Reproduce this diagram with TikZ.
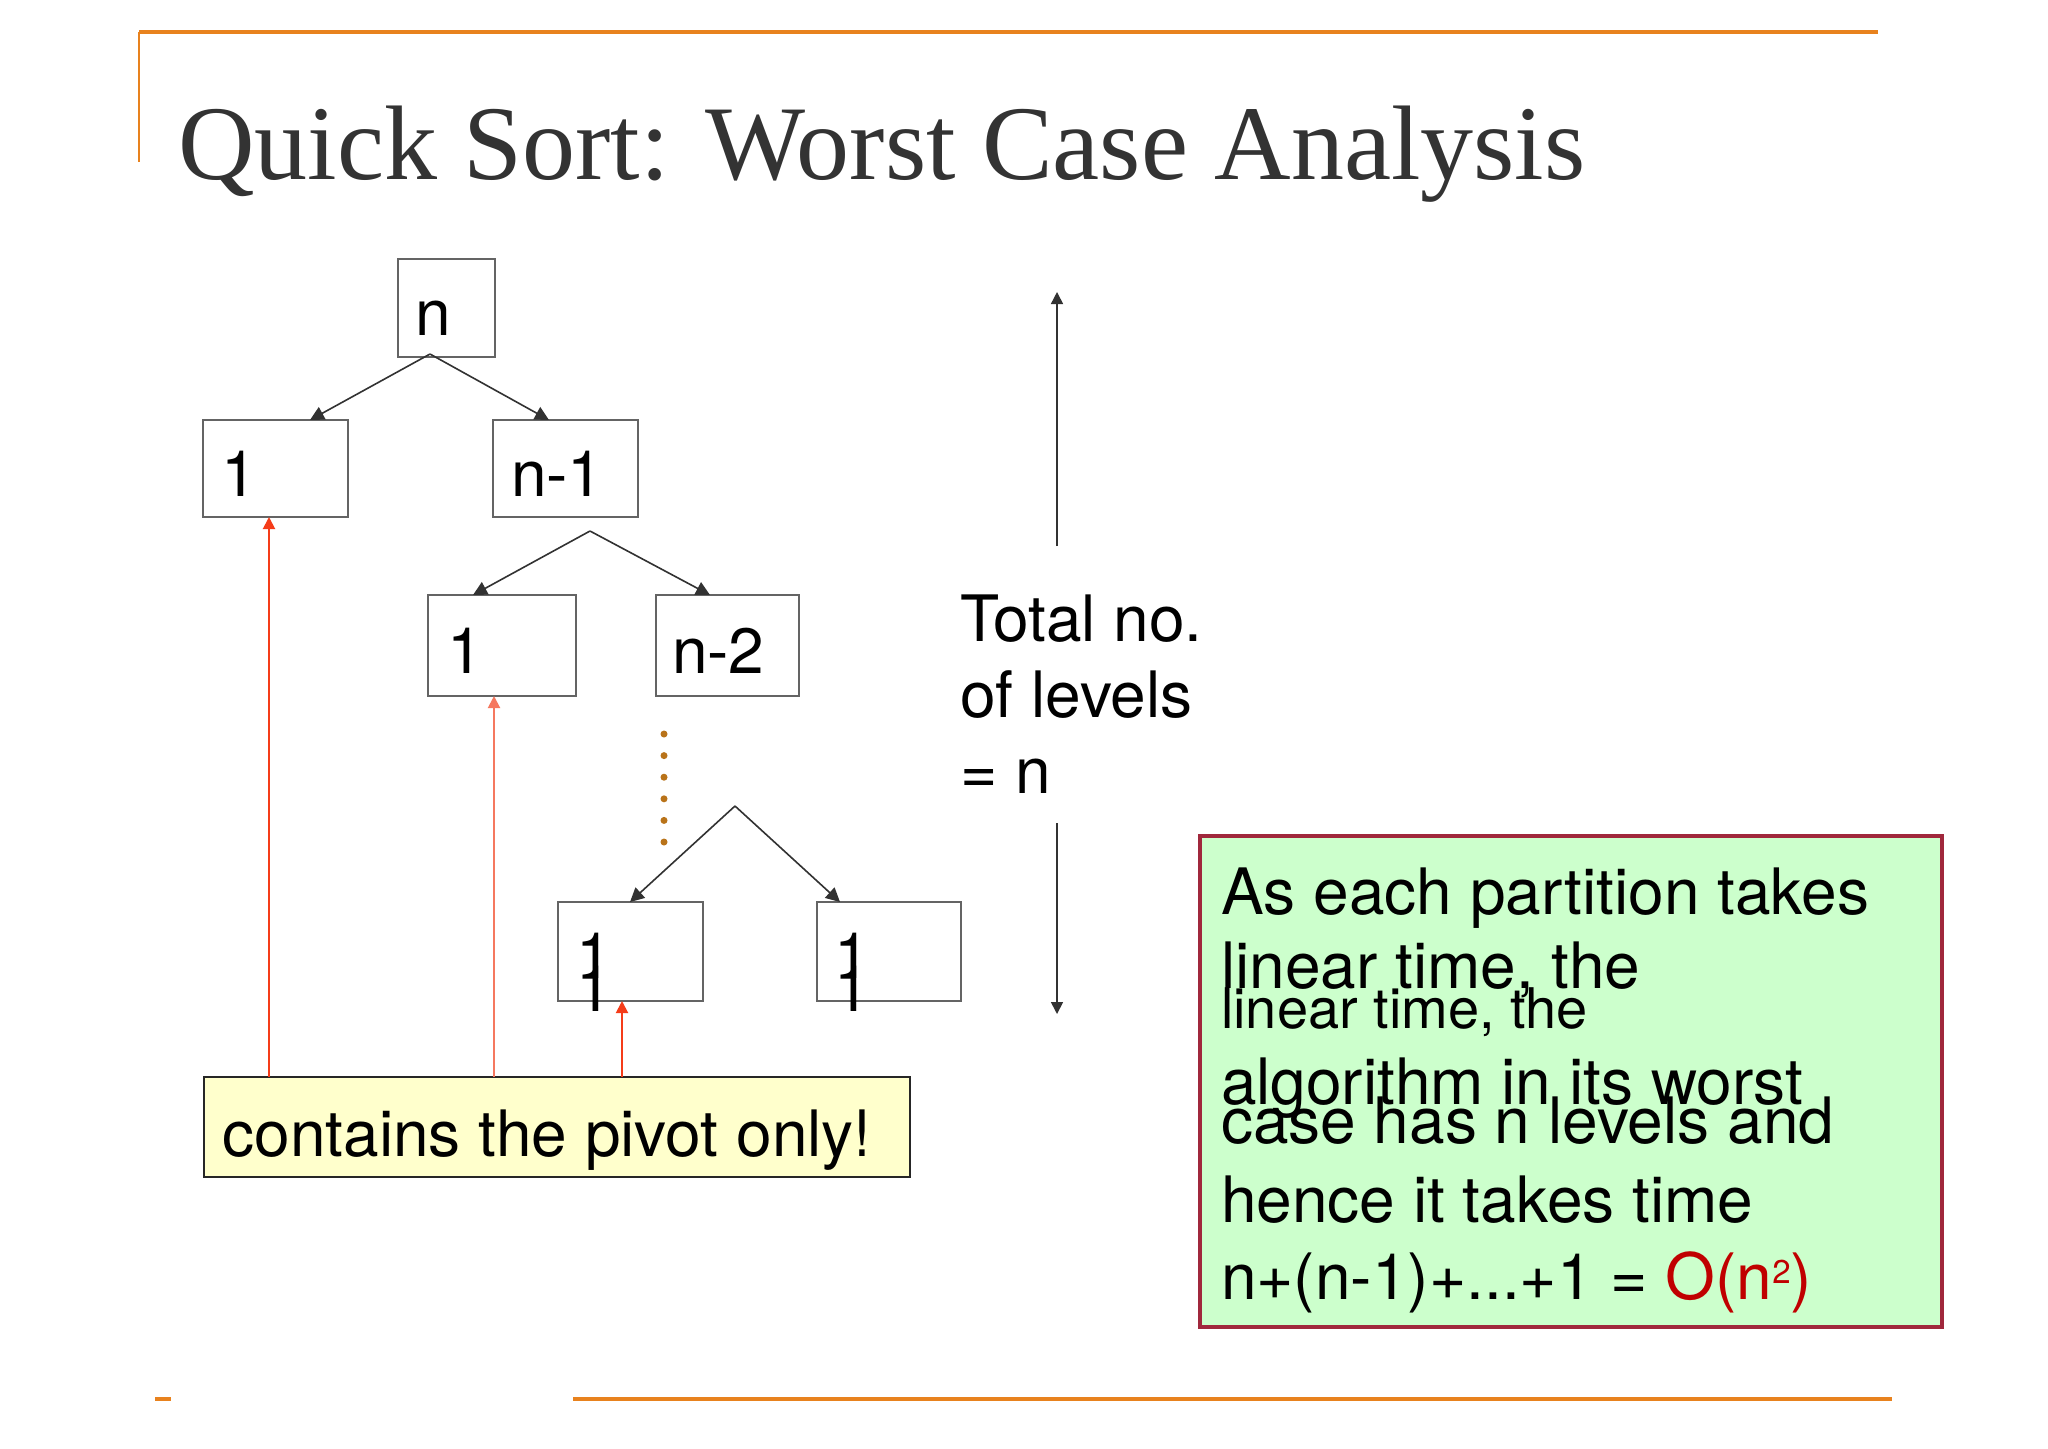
\documentclass[tikz,border=0pt]{standalone}
\usepackage{fontspec}
\setmainfont{TeX Gyre Heros}
\newfontfamily\titlefont{Liberation Serif}
\usetikzlibrary{arrows.meta}
\definecolor{orangeline}{RGB}{232,130,30}
\definecolor{titlegray}{RGB}{51,51,51}
\definecolor{boxgray}{RGB}{100,100,100}
\definecolor{arrowgray}{RGB}{50,50,50}
\definecolor{pivotred}{RGB}{245,60,25}
\definecolor{pivotlight}{RGB}{245,120,95}
\definecolor{dotbrown}{RGB}{185,115,25}
\definecolor{noteyellow}{RGB}{255,255,204}
\definecolor{notegreen}{RGB}{204,255,204}
\definecolor{noteborder}{RGB}{160,40,60}
\definecolor{bigo}{RGB}{192,0,0}
\begin{document}
\begin{tikzpicture}[x=0.5pt,y=-0.5pt,
  treebox/.style={draw=boxgray, line width=1pt, inner sep=0pt, outer sep=0pt},
  lbl/.style={anchor=base west, inner sep=0pt, outer sep=0pt, font=\fontsize{32pt}{38pt}\selectfont},
  smalllbl/.style={anchor=base west, inner sep=0pt, outer sep=0pt, font=\fontsize{28pt}{32pt}\selectfont},
  treearrow/.style={draw=arrowgray, line width=0.8pt, -{Triangle[length=7pt,width=7pt]}},
  pivotarrow/.style={draw=pivotred, line width=1pt, -{Triangle[length=6pt,width=6pt]}},
  levelarrow/.style={draw=arrowgray, line width=0.8pt, -{Triangle[length=6pt,width=6pt]}},
  frameline/.style={draw=orangeline, line width=2pt},
]
\useasboundingbox[fill=white] (0,0) rectangle (2048,1448);

% frame
\draw[frameline] (139,32) -- (1878,32);
\draw[draw=orangeline, line width=1pt] (139,32) -- (139,162);
\draw[frameline] (155,1399) -- (171,1399);
\draw[frameline] (573,1399) -- (1892,1399);

% title
\node[anchor=base west, inner sep=0pt, outer sep=0pt, text=titlegray,
  font=\titlefont\fontsize{53pt}{60pt}\selectfont] (title) at (178,179) {Quick Sort: Worst Case Analysis};

% tree boxes
\node[treebox, minimum width=48.5pt, minimum height=49pt] (nbox) at (446.5,308) {};
\node[treebox, minimum width=72.5pt, minimum height=48.5pt] (b1) at (275.5,468.5) {};
\node[treebox, minimum width=72.5pt, minimum height=48.5pt] (bn1) at (565.5,468.5) {};
\node[treebox, minimum width=74pt, minimum height=50.5pt] (b2) at (502,645.5) {};
\node[treebox, minimum width=71.5pt, minimum height=50.5pt] (bn2) at (727.5,645.5) {};
\node[treebox, minimum width=72.5pt, minimum height=49.5pt] (b3l) at (630.5,951.5) {};
\node[treebox, minimum width=72pt, minimum height=49.5pt] (b3r) at (889,951.5) {};

% box labels
\node[lbl] (tn) at (415,335) {n};
\node[lbl] (t1) at (221,496) {1};
\node[lbl] (tn1) at (511,496) {n-1};
\node[lbl] (t2) at (447,673) {1};
\node[lbl] (tn2) at (672,673) {n-2};
\node[lbl] (t3la) at (576,978) {1};
\node[lbl] (t3lb) at (576,1011) {1};
\node[lbl] (t3ra) at (834,978) {1};
\node[lbl] (t3rb) at (834,1011) {1};

% tree connectors
\coordinate (a0) at (430,354);
\draw[treearrow] (a0) -- ([xshift=17.25pt]b1.north);
\draw[treearrow] (a0) -- ([xshift=-8.25pt]bn1.north);
\coordinate (a1) at (590,531);
\draw[treearrow] (a1) -- ([xshift=-14.5pt]b2.north);
\draw[treearrow] (a1) -- ([xshift=-8.75pt]bn2.north);
\coordinate (a2) at (735,806);
\draw[treearrow] (a2) -- ([xshift=-0.25pt]b3l.north);
\draw[treearrow] (a2) -- ([xshift=-24.5pt]b3r.north);

% dots
\foreach \i in {0,...,5} \fill[dotbrown] ({664},{734+21.6*\i}) circle (1.75pt);

% pivot note
\node[draw=black!85, line width=1pt, fill=noteyellow, minimum width=353pt, minimum height=50pt,
  inner sep=0pt, outer sep=0pt] (pc) at (557,1127) {};
\node[lbl] (pctext) at (222.5,1156) {contains the pivot only!};
\coordinate (p1) at (269,1077);
\coordinate (p2) at (494,1077);
\coordinate (p3) at (622,1077);
\draw[pivotarrow] (p1) -- (p1 |- b1.south);
\draw[pivotarrow, draw=pivotlight] (p2) -- (p2 |- b2.south);
\draw[pivotarrow] (p3) -- (p3 |- b3l.south);

% levels
\node[lbl] (lev1) at (960,641) {Total no.};
\node[lbl] (lev2) at (960,717) {of levels};
\node[lbl] (lev3) at (960,793) {= n};
\coordinate (u0) at (1057,546);
\coordinate (u1) at (1057,292);
\coordinate (d0) at (1057,823);
\coordinate (d1) at (1057,1014);
\draw[levelarrow] (u0) -- (u1);
\draw[levelarrow] (d0) -- (d1);

% green note
\node[draw=noteborder, line width=1.8pt, fill=notegreen, minimum width=371pt, minimum height=245.5pt,
  inner sep=0pt, outer sep=0pt] (gn) at (1571,1081.5) {};
\node[lbl] (g1) at (1221,914) {As each partition takes};
\node[lbl] (g2) at (1221,988) {linear time, the};
\node[smalllbl] (g2b) at (1221,1028) {linear time, the};
\node[lbl] (g3) at (1221,1104) {algorithm in its worst};
\node[lbl] (g4) at (1221,1143) {case has n levels and};
\node[lbl] (g5) at (1221,1222) {hence it takes time};
\node[lbl] (g6) at (1221,1299) {n+(n-1)+...+1 = {\color{bigo}O(n\raisebox{8pt}{\fontsize{16.5pt}{18pt}\selectfont 2})}};
\end{tikzpicture}
\end{document}
